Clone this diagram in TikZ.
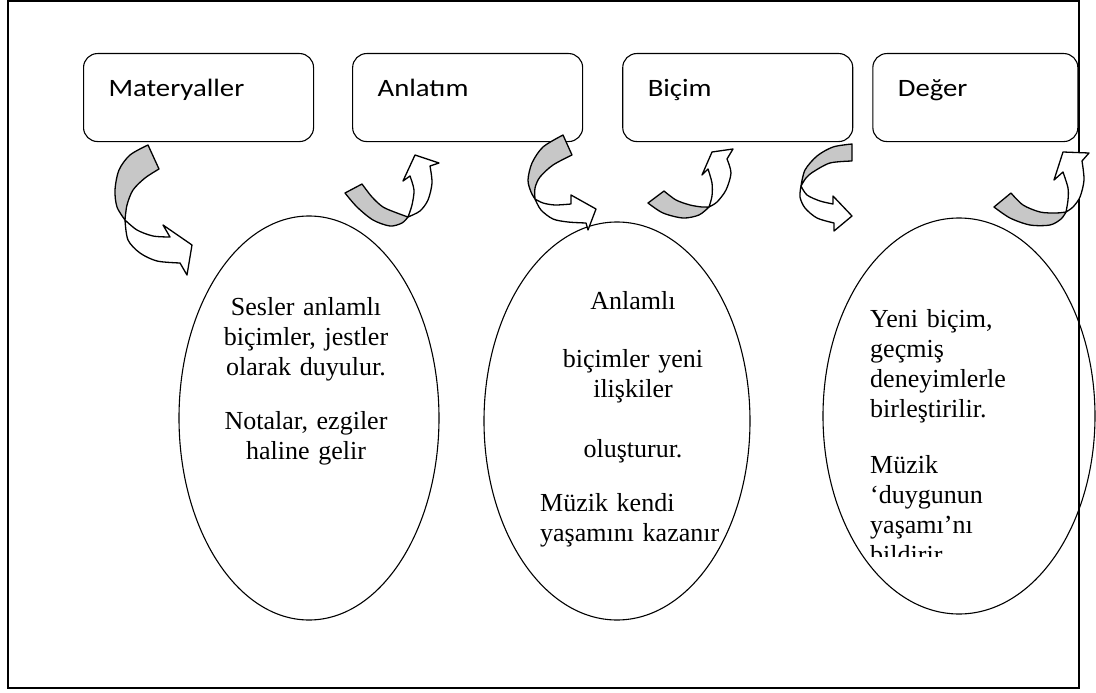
\documentclass[tikz,border=0pt]{standalone}
\usepackage{fontspec}
\setmainfont{Liberation Serif}
\newfontfamily\boxfont[FakeStretch=1.15]{Carlito}
\usetikzlibrary{positioning,shapes.geometric,calc}

\tikzset{
  stage/.style={draw, rounded corners=14pt, line width=1.1pt, fill=white,
    minimum height=88pt, inner xsep=25pt, inner ysep=0pt,
    text height=16pt, text depth=18pt, align=left,
    font=\boxfont\fontsize{25}{30}\selectfont},
  bubble/.style={ellipse, draw, line width=1.1pt, fill=white, inner sep=0pt},
  etext/.style={inner sep=0pt, font=\fontsize{26}{30}\selectfont},
  back/.style={draw, fill=black!22, line width=1.3pt, line join=round},
  front/.style={draw, fill=white, line width=1.3pt, line join=round},
}

\begin{document}
\begin{tikzpicture}[x=1pt,y=-1pt]
\useasboundingbox (0,0) rectangle (1096,693);

% the four stages
\node[stage, text width=180pt, anchor=north west] (materyal) at (83,53) {Materyaller};
\node[stage, text width=180pt, right=38pt of materyal] (anlatim) {Anlatım};
\node[stage, text width=180pt, right=39pt of anlatim] (bicim) {Biçim};
\node[stage, text width=155pt, right=19pt of bicim] (deger) {Değer};

% ovals
\node[bubble, minimum width=260pt, minimum height=404pt] (e1) at (309,418) {};
\node[bubble, minimum width=266pt, minimum height=398pt] (e2) at (617,421) {};
\node[bubble, minimum width=272pt, minimum height=396pt] (e3) at (959,416) {};

\node[etext, text width=200pt, align=center, anchor=base] (t1) at ($(e1.north)+(-3,100)$)
  {Sesler anlamlı\\ biçimler, jestler\\ olarak duyulur.\\[24pt] Notalar, ezgiler\\ haline gelir};
\node[etext, text width=190pt, align=center, anchor=base] (t2) at ($(e2.north)+(16,88)$)
  {Anlamlı\\[28pt] biçimler yeni\\ ilişkiler\\[30pt] oluşturur.};
\node[etext, text width=190pt, align=left, anchor=base west] (t2b) at ($(e2.north)+(-77,290)$)
  {Müzik kendi\\ yaşamını kazanır};
\begin{scope}
\clip (820,210) rectangle (1096,556);
\node[etext, text width=200pt, align=left, anchor=base west] (t3)
  at ($(e3.north)+(-89,110)$)
  {Yeni biçim,\\ geçmiş\\ deneyimlerle\\ birleştirilir.\\[26pt] Müzik\\ ‘duygunun\\ yaşamı’nı\\ bildirir};
\end{scope}

% outer frame
\draw[line width=2pt] (7.5,1.5) rectangle (1078.5,688);

% curved arrows, down then right
\filldraw[back] plot[smooth] coordinates {(148,145) (130,155) (119,170) (115,190) (117,207) (125,220)}
  -- plot[smooth] coordinates {(125,220) (127,205) (133,190) (145,178) (159,169)} -- cycle;
\filldraw[front] plot[smooth] coordinates {(125,220) (137,230) (153,236) (170,237)}
  -- (163,225) -- (192,245) -- (187,275) -- (180,263)
  -- plot[smooth] coordinates {(180,263) (157,261) (140,253) (128,240) (125,220)} -- cycle;

\filldraw[back] plot[smooth] coordinates {(563,135) (543,147) (532,163) (528,180) (531,192) (535,199)}
  -- plot[smooth] coordinates {(535,199) (535,188) (540,177) (553,165) (572,155)} -- cycle;
\filldraw[front] plot[smooth] coordinates {(535,199) (543,203) (555,205) (571,204)}
  -- (571,195) -- (596,209) -- (588,230) -- (586,223)
  -- plot[smooth] coordinates {(586,223) (568,222) (553,219) (541,210) (535,199)} -- cycle;

\filldraw[back] plot[smooth] coordinates {(852,144) (833,147) (817,156) (805,170) (801,186)}
  -- plot[smooth] coordinates {(801,186) (806,178) (813,172) (830,163) (852,161)} -- cycle;
\filldraw[front] plot[smooth] coordinates {(801,186) (807,195) (820,201) (833,204)}
  -- (833,196) -- (852,216) -- (834,231) -- (834,223)
  -- plot[smooth] coordinates {(834,223) (817,218) (805,208) (800,197) (801,186)} -- cycle;

% curved arrows, right then up
\filldraw[back] plot[smooth] coordinates {(345,193) (357,207) (373,220) (390,226) (402,223) (408,217)}
  -- plot[smooth] coordinates {(408,217) (397,213) (383,207) (372,197) (362,184)} -- cycle;
\filldraw[front] plot[smooth] coordinates {(408,217) (412,205) (414,190) (410,176)}
  -- (403,181) -- (415,155) -- (439,163) -- (430,166)
  -- plot[smooth] coordinates {(430,166) (432,183) (428,200) (420,211) (408,217)} -- cycle;

\filldraw[back] plot[smooth] coordinates {(648,203) (663,213) (683,218) (699,215) (709,207)}
  -- plot[smooth] coordinates {(709,207) (702,207) (690,205) (676,200) (664,191)} -- cycle;
\filldraw[front] plot[smooth] coordinates {(709,207) (712,196) (712,183) (708,169)}
  -- (702,175) -- (712,152) -- (733,149) -- (727,159)
  -- plot[smooth] coordinates {(727,159) (731,173) (726,190) (717,202) (709,207)} -- cycle;

\filldraw[back] plot[smooth] coordinates {(994,207) (1010,218) (1030,225) (1050,225) (1061,219) (1066,212)}
  -- plot[smooth] coordinates {(1066,212) (1056,213) (1040,212) (1023,205) (1011,193)} -- cycle;
\filldraw[front] plot[smooth] coordinates {(1066,212) (1068,200) (1068,188) (1063,172)}
  -- (1054,180) -- (1063,152) -- (1089,153) -- (1082,161)
  -- plot[smooth] coordinates {(1082,161) (1084,180) (1080,197) (1073,207) (1066,212)} -- cycle;
\end{tikzpicture}
\end{document}
